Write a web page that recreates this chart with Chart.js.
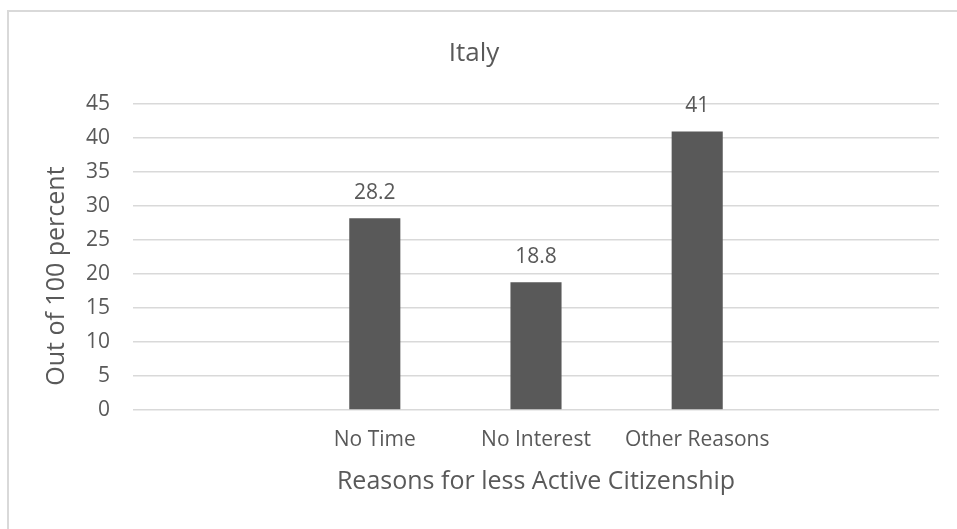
<!DOCTYPE html>
<html lang="en">
<head>
    <meta charset="UTF-8">
    <title>Italy</title>
    <script src="https://cdn.jsdelivr.net/npm/chart.js"></script>
    <style>
        body{
            margin: 0;
            background: #fff;
        }
        #marco{
            position: absolute;
            left: 7px;
            top: 10px;
            width: 950px;
            height: 519px;
            border-top: 2px solid #d9d9d9;
            border-left: 2px solid #d9d9d9;
            box-sizing: border-box;
        }
    </style>
</head>
<body>
<div id="marco">
    <canvas id="grafica"></canvas>
</div>

<script>
    // datos
    const categorias = ['', 'No Time', 'No Interest', 'Other Reasons', ''];
    const valores = [null, 28.2, 18.8, 41, null];
    const etiquetasY = [0, 5, 10, 15, 20, 25, 30, 35, 40, 45];
    const tituloY = 'Out of 100 percent';

    const gris = '#595959';
    const fuente = '"Open Sans", sans-serif';

    // etiquetas encima de cada barra
    const etiquetasBarras = {
        id: 'etiquetasBarras',
        afterDatasetsDraw(chart){
            const ctx = chart.ctx;
            const meta = chart.getDatasetMeta(0);
            ctx.save();
            ctx.fillStyle = gris;
            ctx.font = '21px ' + fuente;
            ctx.textAlign = 'center';
            ctx.textBaseline = 'middle';
            meta.data.forEach((barra, i) => {
                if (valores[i] == null) return;
                ctx.fillText(String(valores[i]), barra.x, barra.y - 25);
            });
            ctx.restore();
        }
    };

    // titulo del eje y, un poco mas abajo que el centro (como en el original)
    const tituloEjeY = {
        id: 'tituloEjeY',
        afterDraw(chart){
            const ctx = chart.ctx;
            const area = chart.chartArea;
            ctx.save();
            ctx.translate(48, (area.top + area.bottom) / 2 + 19);
            ctx.rotate(-Math.PI / 2);
            ctx.fillStyle = gris;
            ctx.font = '25px ' + fuente;
            ctx.textAlign = 'center';
            ctx.textBaseline = 'middle';
            ctx.fillText(tituloY, 0, 0);
            ctx.restore();
        }
    };

    const config = {
        type: 'bar',
        data: {
            labels: categorias,
            datasets: [{
                data: valores,
                backgroundColor: gris,
                categoryPercentage: 1,
                barPercentage: 0.317
            }]
        },
        options: {
            responsive: true,
            maintainAspectRatio: false,
            animation: false,
            layout: { padding: { left: 0, right: 18, top: 0, bottom: 0 } },
            plugins: {
                legend: { display: false },
                tooltip: { enabled: false },
                title: {
                    display: true,
                    text: 'Italy',
                    color: gris,
                    font: { family: fuente, size: 26, weight: 'normal' },
                    padding: { top: 26, bottom: 35 }
                }
            },
            scales: {
                x: {
                    afterFit(scale){
                        scale.height = 119;
                    },
                    grid: { display: false, drawTicks: false },
                    border: { display: false },
                    ticks: {
                        color: gris,
                        font: { family: fuente, size: 21 },
                        padding: 17,
                        maxRotation: 0,
                        autoSkip: false
                    },
                    title: {
                        display: true,
                        text: 'Reasons for less Active Citizenship',
                        color: gris,
                        font: { family: fuente, size: 25 },
                        padding: { top: 15, bottom: 32 }
                    }
                },
                y: {
                    min: 0,
                    max: 45,
                    afterBuildTicks(scale){
                        scale.ticks = etiquetasY.map(v => ({ value: v }));
                    },
                    afterFit(scale){
                        scale.width = 124;
                    },
                    grid: { color: '#d9d9d9', lineWidth: 1.5, drawTicks: false },
                    border: { display: false },
                    ticks: {
                        color: gris,
                        font: { family: fuente, size: 21 },
                        padding: 23
                    }
                }
            }
        },
        plugins: [etiquetasBarras, tituloEjeY]
    };

    new Chart(document.getElementById('grafica'), config);
</script>
</body>
</html>
